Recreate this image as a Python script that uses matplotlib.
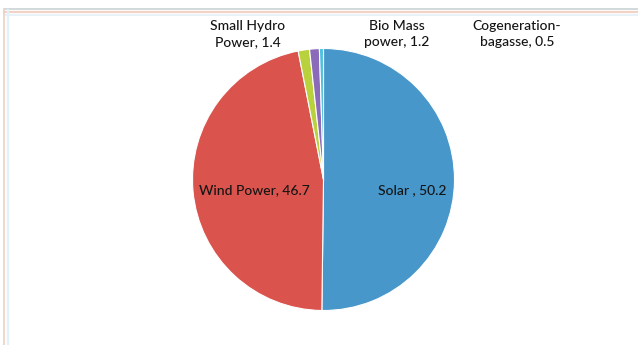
import matplotlib
matplotlib.use("Agg")
import matplotlib.pyplot as plt
from matplotlib.lines import Line2D

# Installed renewable capacity share (%)
sources = ["Solar ", "Wind Power", "Small Hydro\nPower", "Bio Mass\npower", "Cogeneration-\nbagasse"]
shares = [50.2, 46.7, 1.4, 1.2, 0.5]
colors = ["#4897cb", "#da544d", "#b9d13c", "#8b6bb9", "#4cc2df"]

W, H = 638, 345
fig = plt.figure(figsize=(W / 100, H / 100), dpi=100)
fig.patch.set_facecolor("white")
ax = fig.add_axes([0, 0, 1, 1])

cx, cy, r = 323.5, H - 179.5, 131
ax.pie(shares, colors=colors, startangle=90, counterclock=False,
       center=(cx, cy), radius=r, frame=True,
       wedgeprops=dict(edgecolor="white", linewidth=0.8))
ax.set_xlim(0, W)
ax.set_ylim(0, H)
ax.set_aspect("equal")
ax.axis("off")

font = ["Lato", "DejaVu Sans"]
label_pos = [(412, 190), (254, 190), (248, 34), (397, 34), (517, 34)]
for name, val, (x, y) in zip(sources, shares, label_pos):
    ax.text(x, H - y, f"{name}, {val}", ha="center", va="center",
            fontsize=10, color="#141414", family=font, linespacing=1.4,
            fontweight="medium")

# thin frame lines along the top and left edges
def hline(y, color, lw=1.2):
    fig.add_artist(Line2D([4 / W, 1], [1 - y / H, 1 - y / H], color=color,
                          lw=lw, transform=fig.transFigure))

def vline(x, color, lw=1.2):
    fig.add_artist(Line2D([x / W, x / W], [0, 1 - 10 / H], color=color,
                          lw=lw, transform=fig.transFigure))

hline(9, "#c9d3d6")
hline(12, "#f2d2c4", lw=1.6)
hline(15, "#e3f1f8")
vline(3.5, "#f0cfc6")
vline(7.5, "#e2f0f8", lw=1.6)

fig.savefig("out.png", dpi=100, facecolor="white")
